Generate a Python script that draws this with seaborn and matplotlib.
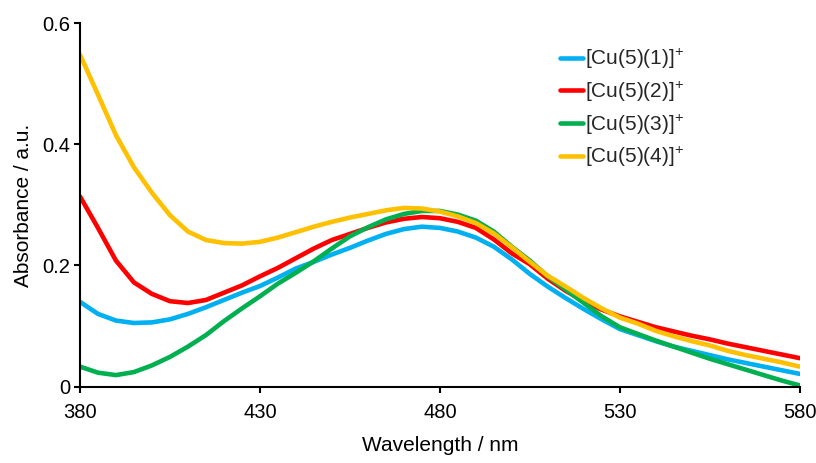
import numpy as np
import pandas as pd
import matplotlib
matplotlib.use("Agg")
import matplotlib.pyplot as plt
import seaborn as sns

# Absorption spectra of the four copper complexes
wavelength = list(range(380, 581, 5))

cu_5_1 = [0.140, 0.120, 0.109, 0.105, 0.106, 0.111, 0.120, 0.131, 0.143, 0.155,
          0.166, 0.180, 0.195, 0.206, 0.218, 0.229, 0.241, 0.252, 0.260, 0.264,
          0.262, 0.256, 0.246, 0.231, 0.210, 0.186, 0.165, 0.146, 0.128, 0.111,
          0.095, 0.085, 0.075, 0.066, 0.059, 0.052, 0.045, 0.039, 0.033, 0.027,
          0.021]

cu_5_2 = [0.314, 0.262, 0.208, 0.172, 0.153, 0.141, 0.138, 0.143, 0.155, 0.167,
          0.182, 0.196, 0.212, 0.228, 0.242, 0.252, 0.262, 0.271, 0.277, 0.280,
          0.278, 0.272, 0.262, 0.243, 0.220, 0.202, 0.178, 0.158, 0.141, 0.127,
          0.116, 0.107, 0.098, 0.091, 0.084, 0.078, 0.071, 0.065, 0.059, 0.053,
          0.047]

cu_5_3 = [0.033, 0.023, 0.019, 0.024, 0.035, 0.049, 0.066, 0.085, 0.108, 0.129,
          0.149, 0.170, 0.188, 0.207, 0.228, 0.248, 0.263, 0.276, 0.285, 0.290,
          0.290, 0.284, 0.274, 0.256, 0.231, 0.208, 0.182, 0.160, 0.138, 0.116,
          0.098, 0.087, 0.076, 0.066, 0.056, 0.046, 0.037, 0.028, 0.019, 0.010,
          0.002]

cu_5_4 = [0.548, 0.482, 0.415, 0.362, 0.320, 0.283, 0.256, 0.242, 0.237, 0.236,
          0.239, 0.246, 0.255, 0.264, 0.272, 0.279, 0.285, 0.291, 0.295, 0.294,
          0.289, 0.281, 0.270, 0.253, 0.230, 0.206, 0.183, 0.165, 0.146, 0.129,
          0.114, 0.104, 0.092, 0.083, 0.075, 0.068, 0.059, 0.052, 0.046, 0.040,
          0.033]

series_labels = [r"[Cu(5)(1)]$^{+}$", r"[Cu(5)(2)]$^{+}$",
                 r"[Cu(5)(3)]$^{+}$", r"[Cu(5)(4)]$^{+}$"]
series_values = [cu_5_1, cu_5_2, cu_5_3, cu_5_4]
series_colors = ["#00B0F0", "#FF0000", "#00B050", "#FFC000"]

x_ticks = [380, 430, 480, 530, 580]
y_ticks = [0, 0.2, 0.4, 0.6]
y_tick_labels = ["0", "0.2", "0.4", "0.6"]

df = pd.concat(
    [pd.DataFrame({"Wavelength": wavelength, "Absorbance": vals, "Complex": lab})
     for lab, vals in zip(series_labels, series_values)],
    ignore_index=True,
)

sns.set_theme(style="white")
plt.rcParams["font.family"] = ["Liberation Sans", "DejaVu Sans"]
plt.rcParams["mathtext.fontset"] = "custom"
plt.rcParams["mathtext.rm"] = "Liberation Sans"
plt.rcParams["mathtext.it"] = "Liberation Sans"
plt.rcParams["mathtext.default"] = "regular"

fig = plt.figure(figsize=(8.16, 4.63), dpi=100)
ax = fig.add_axes([0.098, 0.165, 0.882, 0.785])

sns.lineplot(data=df, x="Wavelength", y="Absorbance", hue="Complex",
             palette=dict(zip(series_labels, series_colors)),
             linewidth=3.3, ax=ax, legend=True)

ax.set_xlim(380, 580)
ax.set_ylim(0, 0.6)
ax.set_xticks(x_ticks)
ax.set_xticklabels([str(t) for t in x_ticks])
ax.set_yticks(y_ticks)
ax.set_yticklabels(y_tick_labels)

for side in ("top", "right"):
    ax.spines[side].set_visible(False)
for side in ("left", "bottom"):
    ax.spines[side].set_color("black")
    ax.spines[side].set_linewidth(1.5)

ax.tick_params(axis="both", which="major", direction="out", length=4,
               width=1.5, color="black", labelsize=14.5, labelcolor="black",
               bottom=True, left=True)
ax.tick_params(axis="x", pad=8)
ax.tick_params(axis="y", pad=3)

ax.set_xlabel("Wavelength / nm", fontsize=15, color="black", labelpad=10)
ax.set_ylabel("Absorbance / a.u.", fontsize=15, color="black", labelpad=7)

leg = ax.legend(loc="upper left", bbox_to_anchor=(0.667, 0.935), frameon=False,
                fontsize=15, handlelength=1.1, handletextpad=0.12,
                labelspacing=0.42, borderaxespad=0, borderpad=0)
for line in leg.get_lines():
    line.set_linewidth(3.3)

fig.savefig("out.png", dpi=100)
